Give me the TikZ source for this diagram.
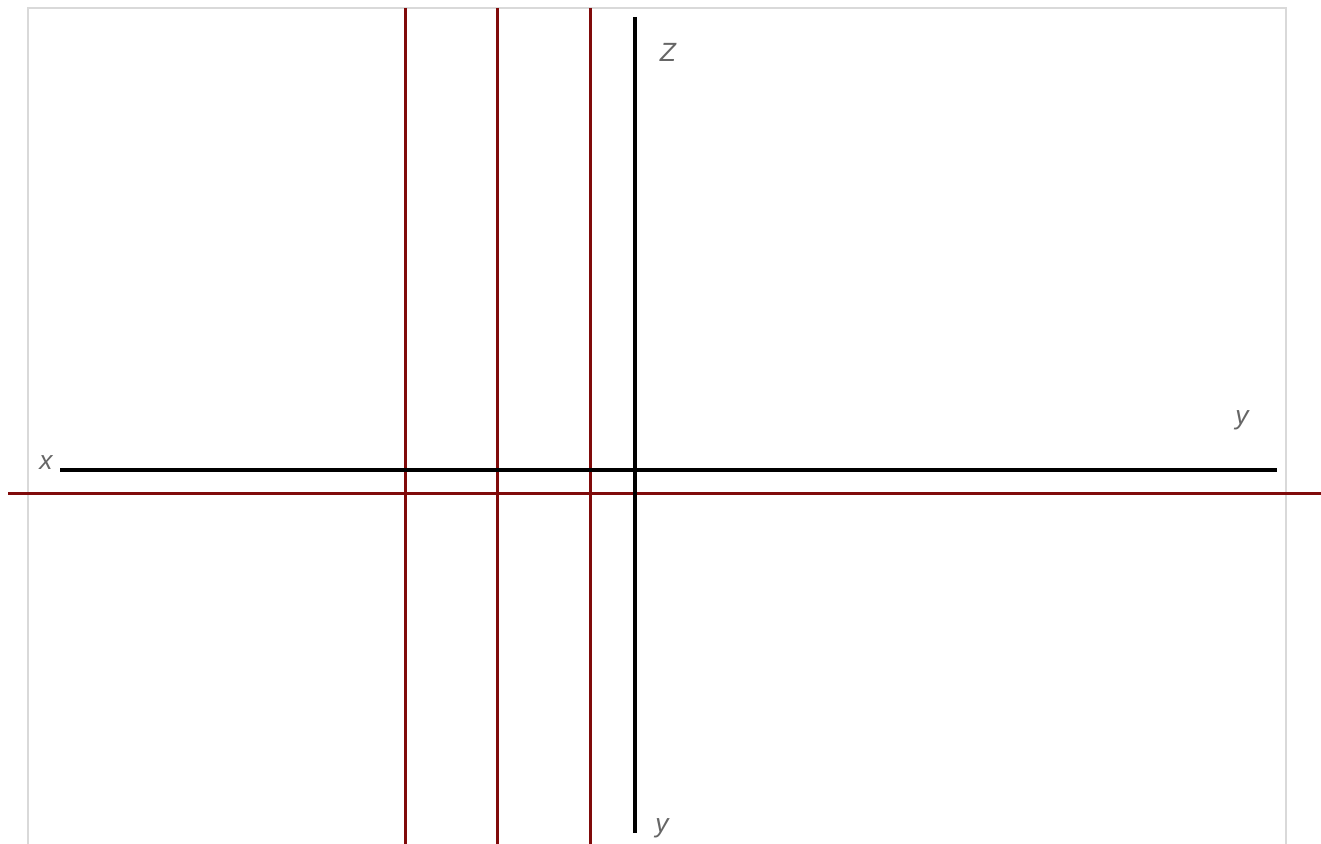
\documentclass[tikz,border=0pt]{standalone}
\usepackage{fontspec}
\setmainfont{Liberation Sans}
\usetikzlibrary{calc}

\tikzset{
	axisline/.style={line width=0.65mm, color=black},
	guideline/.style={line width=0.6mm, color=guidered},
	axislabel/.style={font=\fontsize{15}{17}\selectfont\itshape, text=black!60, inner sep=0pt},
}
\definecolor{guidered}{RGB}{128,10,10}

\begin{document}
\begin{tikzpicture}[x=0.02cm, y=-0.02cm]
			%%%%% START %%%%%
			\useasboundingbox (0, 0) rectangle (1321, 844);
			
			\draw[line width=0.3mm, color=black!15] (28, 900) -- (28, 8) -- (1286, 8) -- (1286, 900);
			
			\coordinate (xleft) at (60, 470);
			\coordinate (xright) at (1277, 470);
			\coordinate (ztop) at (635, 17);
			\coordinate (zbottom) at (635, 833);
			
			\draw[guideline] (8, 493) -- (1321, 493);
			\draw[guideline] (405, 8) -- (405, 844);
			\draw[guideline] (497, 8) -- (497, 844);
			\draw[guideline] (590, 8) -- (590, 844);
			
			\draw[axisline] (xleft) -- (xright);
			\draw[axisline] (ztop) -- (zbottom);
			
			\node[axislabel] (labx) at (46, 463) {x};
			\node[axislabel] (laby) at (1242, 420) {y};
			\node[axislabel] (labz) at (668, 52) {Z};
			\node[axislabel] (labyy) at (662, 828) {y};
			
			%%%%% END %%%%%
\end{tikzpicture}
\end{document}
